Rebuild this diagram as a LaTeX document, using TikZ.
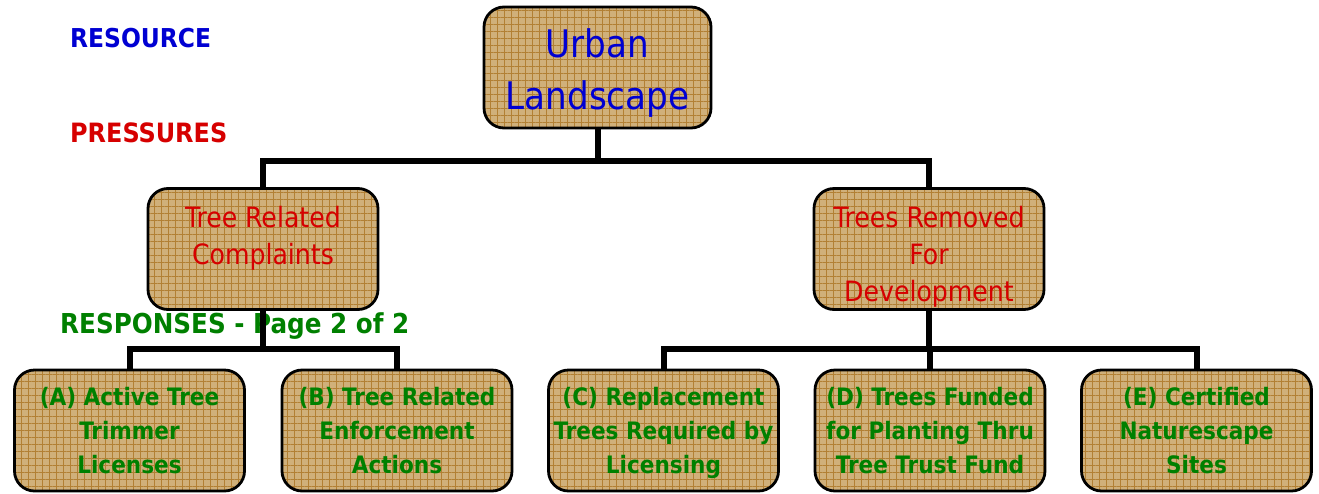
\documentclass[tikz,border=0pt]{standalone}
\usepackage{fontspec}
\setmainfont{DejaVu Sans Condensed}
\usetikzlibrary{patterns.meta}
\definecolor{tanbg}{RGB}{208,176,122}
\definecolor{gridc}{RGB}{178,128,52}
\definecolor{tblue}{RGB}{0,0,210}
\definecolor{tred}{RGB}{214,0,0}
\definecolor{tgreen}{RGB}{0,128,0}
\tikzset{
  box/.style={draw=black, line width=2.8pt, rounded corners=20pt,
    preaction={fill=tanbg},
    pattern={Hatch[angle=0,distance=7pt,line width=0.8pt]}, pattern color=gridc,
    minimum width=230pt, minimum height=121pt, inner sep=0pt},
  bigtxt/.style={align=center, inner sep=0pt, text=tblue, font=\fontsize{38}{52}\selectfont},
  midtxt/.style={align=center, inner sep=0pt, text=tred, font=\fontsize{28}{37}\selectfont},
  lowtxt/.style={align=center, inner sep=0pt, text=tgreen, font=\bfseries\fontsize{24}{34}\selectfont},
  conn/.style={line width=6pt},
  lbl/.style={anchor=west, inner sep=0pt, font=\bfseries\fontsize{26}{28}\selectfont}
}
\begin{document}
\begin{tikzpicture}[x=1pt,y=-1pt]
\useasboundingbox (0,0) rectangle (1319,493);
\node[box, minimum width=227pt] (urban) at (597.5,67.5) {};
\node[box] (trc) at (263,249) {};
\node[box] (trd) at (929,249) {};
\node[box] (a) at (129.5,430.5) {};
\node[box] (b) at (397,430.5) {};
\node[box] (c) at (663.5,430.5) {};
\node[box] (d) at (930,430.5) {};
\node[box] (e) at (1196.5,430.5) {};
\node[bigtxt] (urbant) at ([yshift=-6pt]urban.center) {Urban\\Landscape};
\node[midtxt] (trct) at ([yshift=10.5pt]trc.center) {Tree Related\\Complaints};
\node[midtxt] (trdt) at ([yshift=-8pt]trd.center) {Trees Removed\\For\\Development};
\node[lowtxt] (at) at (a.center) {(A) Active Tree\\Trimmer\\Licenses};
\node[lowtxt] (bt) at (b.center) {(B) Tree Related\\Enforcement\\Actions};
\node[lowtxt] (ct) at ([yshift=-2pt]c.center) {(C) Replacement\\Trees Required by\\Licensing};
\node[lowtxt] (dt) at (d.center) {(D) Trees Funded\\for Planting Thru\\Tree Trust Fund};
\node[lowtxt] (et) at (e.center) {(E) Certified\\Naturescape\\Sites};
\node[lbl, text=tblue] (resource) at (70,38) {RESOURCE};
\node[lbl, text=tred, font=\bfseries\fontsize{26.6}{28}\selectfont] (pressures) at (70,133) {PRESSURES};
\node[lbl, text=tgreen, font=\bfseries\fontsize{27.4}{28}\selectfont] (responses) at (60,326) {RESPONSES - Page 2 of 2};
\draw[conn] (urban.south) -- ++(0,33) -| (trc.north);
\draw[conn] (urban.south) -- ++(0,33) -| (trd.north);
\draw[conn] (trc.south) -- ++(0,38) -| (a.north);
\draw[conn] (trc.south) -- ++(0,38) -| (b.north);
\draw[conn] (trd.south) -- ++(0,38) -| (c.north);
\draw[conn] (trd.south) -- ++(0,38) -| (d.north);
\draw[conn] (trd.south) -- ++(0,38) -| (e.north);
\end{tikzpicture}
\end{document}
